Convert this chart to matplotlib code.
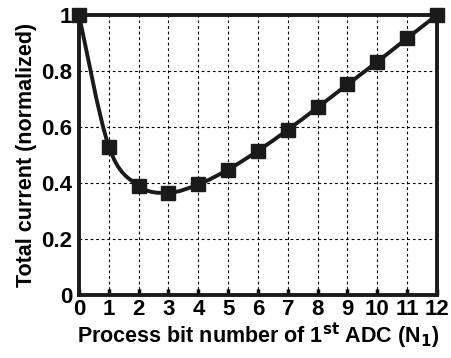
import numpy as np
import matplotlib.pyplot as plt
from matplotlib.path import Path
from matplotlib.patches import PathPatch

plt.rcParams['font.family'] = ['Liberation Sans', 'DejaVu Sans']
plt.rcParams['font.weight'] = 'bold'

bits = [0, 1, 2, 3, 4, 5, 6, 7, 8, 9, 10, 11, 12]
current = [1.0, 0.53, 0.39, 0.365, 0.395, 0.448, 0.515, 0.59, 0.67, 0.752, 0.833, 0.917, 1.0]

fig = plt.figure(figsize=(4.52, 3.58), dpi=100)
ax = fig.add_axes([79 / 452, 63 / 358, 358 / 452, 280 / 358])

# smooth line (catmull-rom as bezier) through the points
x = np.array(bits, float)
y = np.array(current, float)
verts = [(x[0], y[0])]
codes = [Path.MOVETO]
for i in range(len(x) - 1):
    p0 = (x[max(i - 1, 0)], y[max(i - 1, 0)])
    p1 = (x[i], y[i])
    p2 = (x[i + 1], y[i + 1])
    p3 = (x[min(i + 2, len(x) - 1)], y[min(i + 2, len(x) - 1)])
    c1 = (p1[0] + (p2[0] - p0[0]) / 6, p1[1] + (p2[1] - p0[1]) / 6)
    c2 = (p2[0] - (p3[0] - p1[0]) / 6, p2[1] - (p3[1] - p1[1]) / 6)
    verts += [c1, c2, p2]
    codes += [Path.CURVE4] * 3
ax.add_patch(PathPatch(Path(verts, codes), fill=False, lw=2.8, ec='#1a1a1a',
                       clip_on=False, zorder=3))
ax.plot(bits, current, ls='none', marker='s', ms=10, color='#1a1a1a',
        clip_on=False, zorder=4)

ax.set_xlim(0, 12)
ax.set_ylim(0, 1)
ax.set_xticks(bits)
ax.set_yticks([0, 0.2, 0.4, 0.6, 0.8, 1])
ax.set_yticklabels(['0', '0.2', '0.4', '0.6', '0.8', '1'])
ax.grid(True, ls=(0, (2.5, 2.5)), color='black', lw=0.8)
ax.tick_params(direction='in', length=4, width=2.5, labelsize=16, pad=3)
ax.tick_params(axis='y', length=0, pad=5)
for s in ax.spines.values():
    s.set_linewidth(2.8)
    s.set_color('#1a1a1a')

ax.set_xlabel('Process bit number of 1$^{\\mathbf{st}}$ ADC (N$_\\mathbf{1}$)',
              fontsize=15.5, fontweight='bold', labelpad=1)
ax.set_ylabel('Total current (normalized)', fontsize=15.5, fontweight='bold', labelpad=3)

plt.savefig('out.png', dpi=100)
